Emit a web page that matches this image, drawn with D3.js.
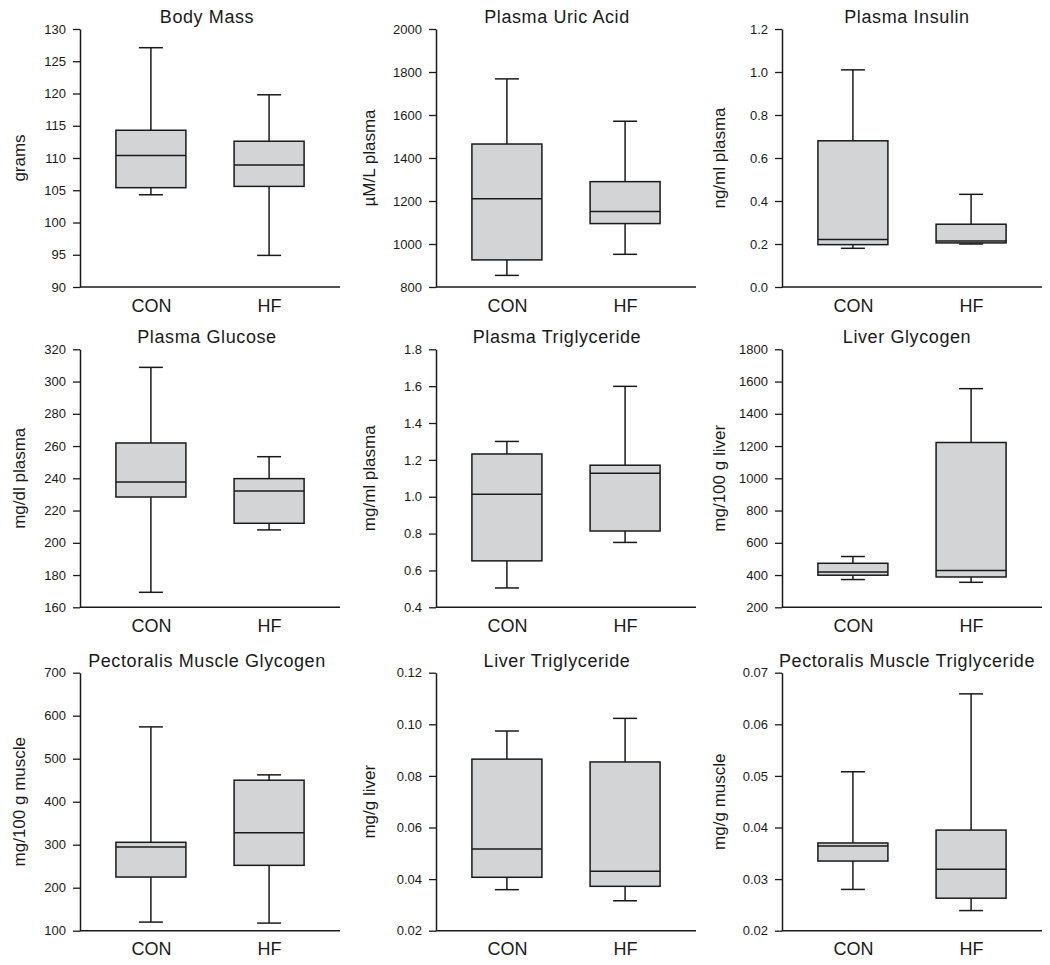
<!DOCTYPE html>
<html>
<head>
<meta charset="utf-8">
<script src="https://cdn.jsdelivr.net/npm/d3@7"></script>
<style>
  html, body { margin: 0; padding: 0; background: #fff; }
  svg { display: block; }
  text { font-family: "Liberation Sans", Arial, sans-serif; fill: #1a1a1a; }
</style>
</head>
<body>
<svg id="chart" width="1050" height="965"></svg>
<script>
// ---- data ----
const categories = ["CON", "HF"];
const panelTitles = [
  "Body Mass", "Plasma Uric Acid", "Plasma Insulin",
  "Plasma Glucose", "Plasma Triglyceride", "Liver Glycogen",
  "Pectoralis Muscle Glycogen", "Liver Triglyceride", "Pectoralis Muscle Triglyceride"
];
const yAxisLabels = [
  "grams", "µM/L plasma", "ng/ml plasma",
  "mg/dl plasma", "mg/ml plasma", "mg/100 g liver",
  "mg/100 g muscle", "mg/g liver", "mg/g muscle"
];
const yTickLabels = [
  ["90", "95", "100", "105", "110", "115", "120", "125", "130"],
  ["800", "1000", "1200", "1400", "1600", "1800", "2000"],
  ["0.0", "0.2", "0.4", "0.6", "0.8", "1.0", "1.2"],
  ["160", "180", "200", "220", "240", "260", "280", "300", "320"],
  ["0.4", "0.6", "0.8", "1.0", "1.2", "1.4", "1.6", "1.8"],
  ["200", "400", "600", "800", "1000", "1200", "1400", "1600", "1800"],
  ["100", "200", "300", "400", "500", "600", "700"],
  ["0.02", "0.04", "0.06", "0.08", "0.10", "0.12"],
  ["0.02", "0.03", "0.04", "0.05", "0.06", "0.07"]
];
// [min, Q1, median, Q3, max]
const conStats = [
  [104.3, 105.4, 110.4, 114.3, 127.1],
  [854, 926, 1210, 1465, 1768],
  [0.18, 0.197, 0.221, 0.68, 1.01],
  [169.3, 228.4, 237.7, 261.9, 308.8],
  [0.505, 0.652, 1.013, 1.232, 1.30],
  [372, 399, 419, 473, 515],
  [120, 224.8, 294.7, 305.6, 574],
  [0.0359, 0.0407, 0.0517, 0.0865, 0.0974],
  [0.028, 0.0335, 0.0364, 0.037, 0.0508]
];
const hfStats = [
  [94.9, 105.6, 108.9, 112.6, 119.8],
  [952, 1095, 1151, 1290, 1571],
  [0.2, 0.205, 0.214, 0.292, 0.431],
  [208, 212.1, 232.1, 239.8, 253.4],
  [0.752, 0.814, 1.127, 1.171, 1.599],
  [355, 388, 428, 1222, 1556],
  [117.7, 252, 328, 450, 462.4],
  [0.0316, 0.0372, 0.043, 0.0854, 0.1023],
  [0.0239, 0.0263, 0.0319, 0.0395, 0.0659]
];

// ---- layout ----
const colAxisX = [80, 436, 782];
const colLeft = [0, 350, 700];
const rowTop = [29, 349.3, 672.7];
const plotW = 260, plotH = 258;
const boxW = 70, capW = 24;
const ink = "#1a1a1a";
const boxFill = "#d3d4d6";

const svg = d3.select("#chart");

panelTitles.forEach((title, i) => {
  const col = i % 3, row = Math.floor(i / 3);
  const ax = colAxisX[col], top = rowTop[row];
  const ticks = yTickLabels[i];
  const tickVals = ticks.map(Number);
  const y = d3.scaleLinear()
    .domain([tickVals[0], tickVals[tickVals.length - 1]])
    .range([plotH, 0]);
  const x = d3.scalePoint().domain(categories).range([0, plotW]).padding(0.6);

  const g = svg.append("g").attr("transform", `translate(${ax},${top})`);

  // y axis
  const yAxis = d3.axisLeft(y)
    .tickValues(tickVals)
    .tickFormat((d, k) => ticks[k])
    .tickSize(7)
    .tickSizeOuter(0)
    .tickPadding(7);
  const yg = g.append("g").call(yAxis);
  yg.select(".domain").attr("stroke", ink).attr("stroke-width", 1.5);
  yg.selectAll(".tick line").attr("stroke", ink).attr("stroke-width", 1.3);
  yg.selectAll(".tick text")
    .attr("font-size", 13)
    .attr("fill", ink)
    .style("font-family", '"Liberation Sans", Arial, sans-serif');

  // x axis
  const xAxis = d3.axisBottom(x).tickSize(0).tickSizeOuter(0).tickPadding(12);
  const xg = g.append("g").attr("transform", `translate(0,${plotH})`).call(xAxis);
  xg.select(".domain").attr("stroke", ink).attr("stroke-width", 1.5)
    .attr("d", `M0,0H${plotW}`);
  xg.selectAll(".tick text")
    .attr("font-size", 18)
    .attr("fill", ink)
    .style("font-family", '"Liberation Sans", Arial, sans-serif');

  // boxes
  const groups = [
    { cat: categories[0], s: conStats[i] },
    { cat: categories[1], s: hfStats[i] }
  ];
  groups.forEach(({ cat, s }) => {
    const cx = x(cat);
    const [mn, q1, md, q3, mx] = s;
    // whiskers
    g.append("line").attr("x1", cx).attr("x2", cx)
      .attr("y1", y(mx)).attr("y2", y(q3))
      .attr("stroke", ink).attr("stroke-width", 1.5);
    g.append("line").attr("x1", cx).attr("x2", cx)
      .attr("y1", y(q1)).attr("y2", y(mn))
      .attr("stroke", ink).attr("stroke-width", 1.5);
    // caps
    [mn, mx].forEach(v => {
      g.append("line").attr("x1", cx - capW / 2).attr("x2", cx + capW / 2)
        .attr("y1", y(v)).attr("y2", y(v))
        .attr("stroke", ink).attr("stroke-width", 1.5);
    });
    // box
    g.append("rect")
      .attr("x", cx - boxW / 2).attr("width", boxW)
      .attr("y", y(q3)).attr("height", Math.max(0, y(q1) - y(q3)))
      .attr("fill", boxFill).attr("stroke", ink).attr("stroke-width", 1.5);
    // median
    g.append("line").attr("x1", cx - boxW / 2).attr("x2", cx + boxW / 2)
      .attr("y1", y(md)).attr("y2", y(md))
      .attr("stroke", ink).attr("stroke-width", 1.5);
  });

  // title
  svg.append("text")
    .attr("x", colLeft[col] + 207)
    .attr("y", top - 6)
    .attr("text-anchor", "middle")
    .attr("font-size", 18)
    .attr("letter-spacing", 0.6)
    .text(title);

  // y label
  const ly = top + plotH / 2;
  const lx = colLeft[col] + 19;
  svg.append("text")
    .attr("transform", `translate(${lx},${ly}) rotate(-90)`)
    .attr("text-anchor", "middle")
    .attr("dy", "0.35em")
    .attr("font-size", 17)
    .text(yAxisLabels[i]);
});
</script>
</body>
</html>
